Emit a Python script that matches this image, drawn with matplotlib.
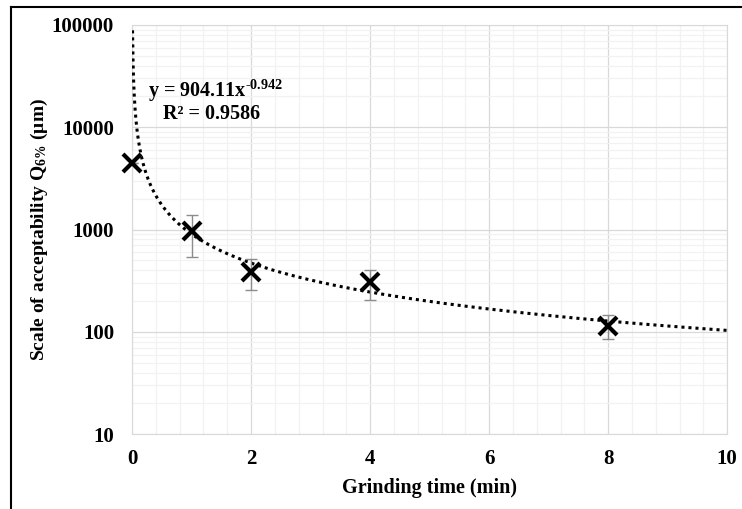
import numpy as np
import matplotlib
matplotlib.use("Agg")
import matplotlib.pyplot as plt
from matplotlib.lines import Line2D
from matplotlib.ticker import LogLocator, MultipleLocator, NullFormatter, FuncFormatter

plt.rcParams['font.family'] = ['Liberation Serif', 'DejaVu Serif']
plt.rcParams['mathtext.fontset'] = 'custom'
plt.rcParams['mathtext.rm'] = 'Liberation Serif:bold'
plt.rcParams['mathtext.it'] = 'Liberation Serif:bold'
plt.rcParams['mathtext.bf'] = 'Liberation Serif:bold'

# Data
grinding_time = [0, 1, 2, 4, 8]
q6 = [4500, 960, 385, 305, 115]
q6_err = [0, 420, 130, 100, 30]

# Power-law trend line (from the chart's equation)
coef_a = 904.11
coef_b = -0.942
r2 = 0.9586

fig = plt.figure(figsize=(7.42, 5.09), dpi=100)
ax = fig.add_axes([0.178, 0.147, 0.802, 0.804])

ax.set_yscale('log')
ax.set_xlim(0, 10)
ax.set_ylim(10, 100000)

xt = np.linspace(0.0077, 10, 2000)
ax.plot(xt, coef_a * xt ** coef_b, linestyle=(0, (1, 1.3)), color='black', lw=2.2, zorder=3)

ax.errorbar(grinding_time, q6, yerr=q6_err, fmt='none', ecolor='#8c8c8c',
            elinewidth=1.0, capsize=4, capthick=1.0, zorder=4)
ax.plot(grinding_time, q6, linestyle='none', marker='x', markersize=13,
        markeredgewidth=3, color='black', zorder=5, clip_on=False)

ax.xaxis.set_major_locator(MultipleLocator(2))
ax.xaxis.set_minor_locator(MultipleLocator(0.4))
ax.yaxis.set_major_locator(LogLocator(base=10, numticks=10))
ax.yaxis.set_minor_locator(LogLocator(base=10, subs=np.arange(2, 10), numticks=20))
ax.yaxis.set_minor_formatter(NullFormatter())
ax.yaxis.set_major_formatter(FuncFormatter(lambda v, p: f"{int(round(v))}"))

ax.grid(which='major', color='#d9d9d9', lw=0.9)
ax.grid(which='minor', color='#f2f2f2', lw=0.9)
ax.set_axisbelow(True)
for s in ax.spines.values():
    s.set_color('#d9d9d9')
ax.tick_params(which='both', length=0)
ax.tick_params(axis='y', labelsize=15, pad=13)
ax.tick_params(axis='x', labelsize=15, pad=11)
for lbl in ax.get_xticklabels() + ax.get_yticklabels():
    lbl.set_fontweight('bold')

ax.set_xlabel('Grinding time (min)', fontsize=14.5, fontweight='bold', labelpad=6)
ax.set_ylabel(r'Scale of acceptability Q$_{6\%}$ (μm)', fontsize=14, fontweight='bold', labelpad=1)

ax.text(0.026, 0.838, f"y = {coef_a}x$^{{\\text{{{coef_b}}}}}$", transform=ax.transAxes,
        fontsize=14.5, fontweight='bold', ha='left', va='center')
ax.text(0.052, 0.783, f"R² = {r2}", transform=ax.transAxes,
        fontsize=14.5, fontweight='bold', ha='left', va='center')

# Outer border (top and left visible)
fig.add_artist(Line2D([10.5/742, 1.0], [1 - 7/509, 1 - 7/509], transform=fig.transFigure, color='black', lw=1.5))
fig.add_artist(Line2D([10.5/742, 10.5/742], [0, 1 - 7/509], transform=fig.transFigure, color='black', lw=1.5))

fig.savefig('out.png', dpi=100)
